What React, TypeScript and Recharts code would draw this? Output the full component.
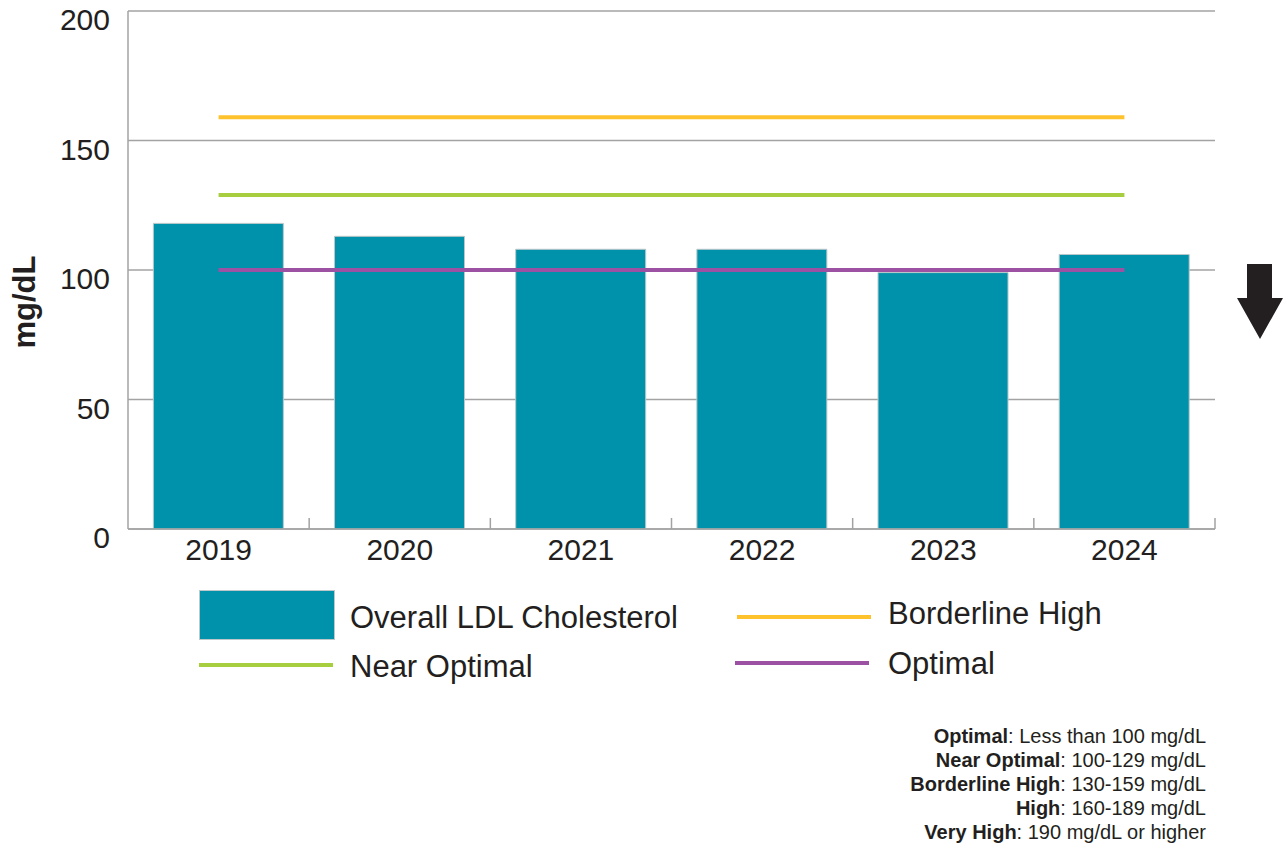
import { ComposedChart, Bar, Line, XAxis, YAxis, CartesianGrid } from "recharts"

const years = ["2019", "2020", "2021", "2022", "2023", "2024"]
const ldlValues = [118, 113, 108, 108, 99, 106]
const borderlineHigh = [159, 159, 159, 159, 159, 159]
const nearOptimal = [129, 129, 129, 129, 129, 129]
const optimal = [100, 100, 100, 100, 100, 100]
const yTicks = [0, 50, 100, 150, 200]

const rangeNames = ["Optimal", "Near Optimal", "Borderline High", "High", "Very High"]
const rangeTexts = ["Less than 100 mg/dL", "100-129 mg/dL", "130-159 mg/dL", "160-189 mg/dL", "190 mg/dL or higher"]

const FONT = '"Liberation Sans", Arial, sans-serif'
const INK = "#231f20"
const GRID = "#a3a3a3"
const TEAL = "#0092aa"
const YELLOW = "#fec22d"
const GREEN = "#a7ce3f"
const PURPLE = "#9d51a3"

const data = years.map((year, i) => ({
  year,
  ldl: ldlValues[i],
  borderline: borderlineHigh[i],
  near: nearOptimal[i],
  optimal: optimal[i],
}))

const TICK_GAP = 10

// year label plus the short upward marks at the category boundaries
const XTick = ({ x, y, payload, index }: any) => {
  const half = payload.offset || 0
  const axisY = y - TICK_GAP
  const mark = (mx: number) => (
    <line x1={mx} x2={mx} y1={axisY} y2={axisY - 11} stroke={GRID} strokeWidth={1.5} />
  )
  return (
    <g>
      {index > 0 && mark(x - half)}
      {index === years.length - 1 && mark(x + half)}
      <text x={x} y={y} dy={21} textAnchor="middle" fontSize={30} fill={INK} fontFamily={FONT}>
        {payload.value}
      </text>
    </g>
  )
}

const YTick = ({ x, y, payload }: any) => (
  <text x={x} y={y} dy={19} textAnchor="end" fontSize={30} fill={INK} fontFamily={FONT}>
    {payload.value}
  </text>
)

const YLabel = ({ viewBox }: any) => {
  const cx = viewBox.x + 35
  const cy = viewBox.y + viewBox.height / 2 + 32
  return (
    <text
      x={cx}
      y={cy}
      transform={`rotate(-90 ${cx} ${cy})`}
      textAnchor="middle"
      fontSize={31}
      fontWeight="bold"
      fill={INK}
      fontFamily={FONT}
    >
      mg/dL
    </text>
  )
}

function LegendLine({ left, top, color }: { left: number; top: number; color: string }) {
  return <div style={{ position: "absolute", left, top, width: 134, height: 4, background: color }} />
}

function LegendText({ left, top, children }: { left: number; top: number; children: string }) {
  return (
    <div style={{ position: "absolute", left, top, fontSize: 31, lineHeight: "34px", color: INK, whiteSpace: "nowrap" }}>
      {children}
    </div>
  )
}

export default function App() {
  return (
    <div style={{ position: "absolute", left: 0, top: 0, width: 1288, height: 847, background: "#fff", fontFamily: FONT }}>
      <ComposedChart
        width={1288}
        height={600}
        data={data}
        margin={{ top: 11, right: 73, bottom: 0, left: 0 }}
        barCategoryGap="14%"
      >
        <CartesianGrid vertical={false} stroke={GRID} strokeWidth={1.5} />
        <XAxis
          dataKey="year"
          height={71}
          stroke={GRID}
          strokeWidth={1.5}
          tickLine={false}
          tickSize={0}
          tickMargin={TICK_GAP}
          tick={<XTick />}
        />
        <YAxis
          width={128}
          domain={[0, 200]}
          ticks={yTicks}
          stroke={GRID}
          strokeWidth={1.5}
          tickLine={false}
          tickSize={0}
          tickMargin={18}
          tick={<YTick />}
          label={{ content: <YLabel /> }}
        />
        <Bar dataKey="ldl" fill={TEAL} stroke="#bcc8ca" strokeWidth={1} isAnimationActive={false} />
        <Line dataKey="borderline" stroke={YELLOW} strokeWidth={4} dot={false} activeDot={false} isAnimationActive={false} />
        <Line dataKey="near" stroke={GREEN} strokeWidth={4} dot={false} activeDot={false} isAnimationActive={false} />
        <Line dataKey="optimal" stroke={PURPLE} strokeWidth={4} dot={false} activeDot={false} isAnimationActive={false} />
      </ComposedChart>

      {/* legend */}
      <div style={{ position: "absolute", left: 199, top: 590, width: 136, height: 50, background: TEAL, boxShadow: "inset 0 0 0 1px #bcc8ca" }} />
      <LegendText left={350} top={601}>Overall LDL Cholesterol</LegendText>
      <LegendLine left={737} top={615} color={YELLOW} />
      <LegendText left={888} top={597}>Borderline High</LegendText>
      <LegendLine left={199} top={663} color={GREEN} />
      <LegendText left={350} top={650}>Near Optimal</LegendText>
      <LegendLine left={735} top={661} color={PURPLE} />
      <LegendText left={888} top={647}>Optimal</LegendText>

      {/* downward arrow */}
      <svg style={{ position: "absolute", left: 1236, top: 264 }} width={48} height={76}>
        <polygon points="11,0 36,0 36,34 47,34 24,75 1,34 11,34" fill={INK} />
      </svg>

      {/* reference ranges */}
      <div
        style={{
          position: "absolute",
          left: 0,
          top: 724,
          width: 1206,
          textAlign: "right",
          fontSize: 20,
          lineHeight: "24px",
          color: INK,
        }}
      >
        {rangeNames.map((name, i) => (
          <div key={name}>
            <b>{name}</b>: {rangeTexts[i]}
          </div>
        ))}
      </div>
    </div>
  )
}
